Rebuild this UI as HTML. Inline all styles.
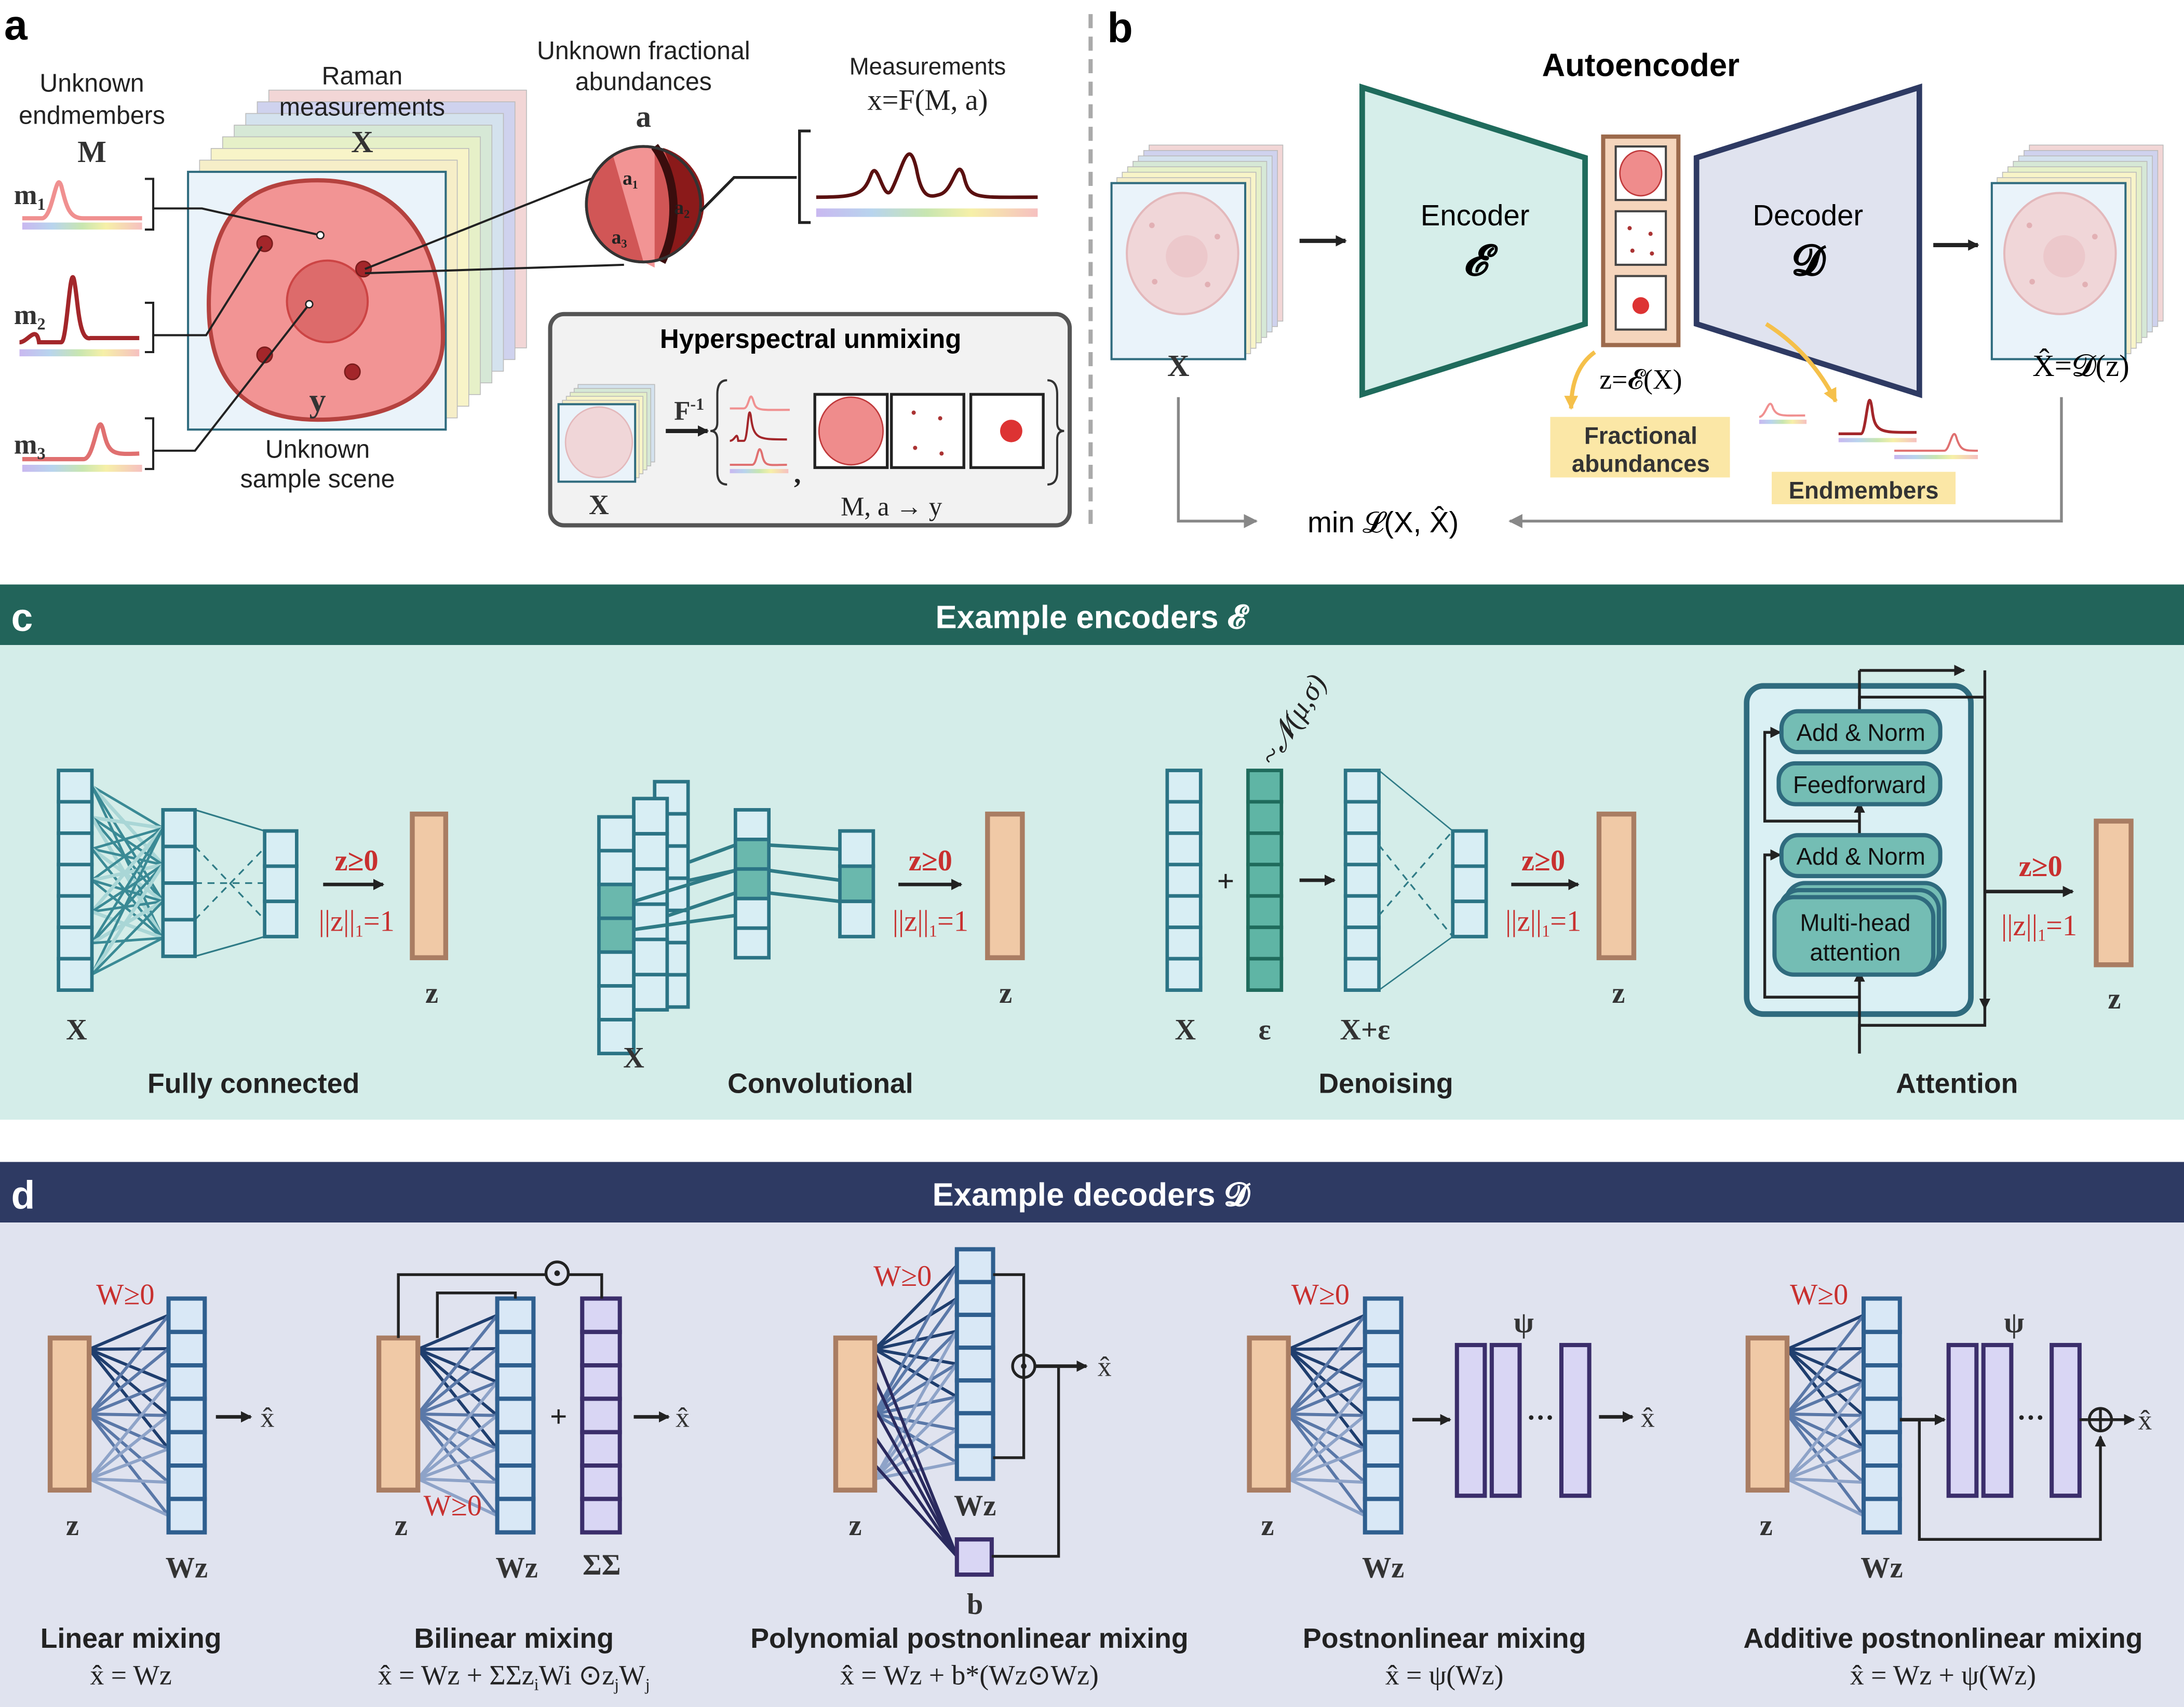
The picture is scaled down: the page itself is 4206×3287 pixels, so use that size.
<!DOCTYPE html>
<html><head><meta charset="utf-8"><style>
html,body{margin:0;padding:0;background:#fff}
svg{display:block}
text{font-family:"Liberation Sans",sans-serif}
.s,.s text,text.s{font-family:"Liberation Serif",serif}
.b,.b text{font-weight:bold}
</style></head><body>
<svg id="m" xmlns="http://www.w3.org/2000/svg" width="4206" height="3287" viewBox="0 0 1568 1212" preserveAspectRatio="none">
<defs>
<marker id="ah" markerWidth="8" markerHeight="8" refX="7" refY="4" orient="auto" markerUnits="userSpaceOnUse"><path d="M0,0L8,4L0,8z" fill="#222"/></marker>
<marker id="ahg" markerWidth="10" markerHeight="10" refX="9" refY="5" orient="auto" markerUnits="userSpaceOnUse"><path d="M0,0L10,5L0,10z" fill="#888"/></marker>
<marker id="ahy" markerWidth="10" markerHeight="10" refX="9" refY="5" orient="auto" markerUnits="userSpaceOnUse"><path d="M0,0L10,5L0,10z" fill="#f5c04a"/></marker>
<linearGradient id="rb" x1="0" x2="1"><stop offset="0" stop-color="#c9b8f0"/><stop offset=".25" stop-color="#b8d4ee"/><stop offset=".5" stop-color="#c8e6b0"/><stop offset=".7" stop-color="#f6f0a8"/><stop offset="1" stop-color="#f6c0c0"/></linearGradient>
</defs>
<rect width="1568" height="1212" fill="#fff"/>
<rect x="0" y="415" width="1568" height="43" fill="#22645a"/>
<rect x="0" y="458" width="1568" height="337" fill="#d4ede9"/>
<rect x="0" y="825" width="1568" height="43" fill="#2e3a63"/>
<rect x="0" y="868" width="1568" height="344" fill="#e0e3ef"/>
<text x="8" y="448" font-size="28" class="b" fill="#fff">c</text>
<text x="783" y="446" font-size="23" class="b" fill="#fff" text-anchor="middle">Example encoders 𝓔</text>
<text x="8" y="858" font-size="28" class="b" fill="#fff">d</text>
<text x="783" y="856" font-size="23" class="b" fill="#fff" text-anchor="middle">Example decoders 𝓓</text>
<line x1="783" y1="10" x2="783" y2="375" stroke="#aaa" stroke-width="3" stroke-dasharray="10 6"/>
<rect x="395" y="223" width="373" height="150" rx="10" fill="#f2f2f2" stroke="#555" stroke-width="3"/>
<g id="dyn"></g>
<text x="3" y="28" font-size="30" class="b">a</text>
<text x="66" y="65" font-size="18" text-anchor="middle" fill="#222">Unknown</text>
<text x="66" y="88" font-size="18" text-anchor="middle" fill="#222">endmembers</text>
<text x="66" y="115" font-size="22" class="s b" text-anchor="middle" fill="#333">M</text>
<text x="260" y="60" font-size="18" text-anchor="middle" fill="#222">Raman</text>
<text x="260" y="82" font-size="18" text-anchor="middle" fill="#222">measurements</text>
<text x="260" y="108" font-size="22" class="s b" text-anchor="middle" fill="#333">X</text>
<text x="462" y="42" font-size="18" text-anchor="middle" fill="#222">Unknown fractional</text>
<text x="462" y="64" font-size="18" text-anchor="middle" fill="#222">abundances</text>
<text x="462" y="90" font-size="22" class="s b" text-anchor="middle" fill="#333">a</text>
<text x="666" y="53" font-size="17" text-anchor="middle" fill="#222">Measurements</text>
<text x="666" y="78" font-size="21" class="s" text-anchor="middle" fill="#222">x=F(M, a)</text>
<text x="228" y="325" font-size="18" text-anchor="middle" fill="#222">Unknown</text>
<text x="228" y="346" font-size="18" text-anchor="middle" fill="#222">sample scene</text>
<text x="228" y="292" font-size="24" class="s b" text-anchor="middle" fill="#333">y</text>
<text x="10" y="145" font-size="20" class="s b" fill="#333">m<tspan font-size="12" dy="4">1</tspan></text>
<text x="10" y="230" font-size="20" class="s b" fill="#333">m<tspan font-size="12" dy="4">2</tspan></text>
<text x="10" y="322" font-size="20" class="s b" fill="#333">m<tspan font-size="12" dy="4">3</tspan></text>
<text x="582" y="247" font-size="19" class="b" text-anchor="middle">Hyperspectral unmixing</text>
<text x="430" y="365" font-size="20" class="s b" text-anchor="middle" fill="#333">X</text>
<text x="484" y="298" font-size="19" class="s b" fill="#333">F<tspan font-size="12" dy="-7">-1</tspan></text>
<line x1="478" y1="306" x2="508" y2="306" stroke="#222" stroke-width="3" marker-end="url(#ah)"/>
<text x="640" y="366" font-size="19" class="s" text-anchor="middle" fill="#222">M, a → y</text>
<text x="795" y="30" font-size="30" class="b">b</text>
<text x="1178" y="54" font-size="23" class="b" text-anchor="middle">Autoencoder</text>
<polygon points="978,62 1138,112 1138,230 978,280" fill="#d6eeea" stroke="#1f6b5c" stroke-width="4"/>
<polygon points="1218,112 1378,62 1378,280 1218,230" fill="#e0e3ef" stroke="#2e3a63" stroke-width="4"/>
<text x="1059" y="160" font-size="21" text-anchor="middle">Encoder</text>
<text x="1059" y="195" font-size="30" text-anchor="middle" font-style="italic" class="b">𝓔</text>
<text x="1298" y="160" font-size="21" text-anchor="middle">Decoder</text>
<text x="1298" y="195" font-size="30" text-anchor="middle" class="b">𝓓</text>
<rect x="1151" y="97" width="54" height="148" fill="#f5d5bc" stroke="#9c6a4c" stroke-width="3"/>
<rect x="1160" y="104" width="36" height="38" fill="#fff" stroke="#444" stroke-width="1.5"/>
<rect x="1160" y="150" width="36" height="38" fill="#fff" stroke="#444" stroke-width="1.5"/>
<rect x="1160" y="196" width="36" height="38" fill="#fff" stroke="#444" stroke-width="1.5"/>
<ellipse cx="1178" cy="123" rx="15" ry="16" fill="#ef8c8c" stroke="#c0393b"/>
<circle cx="1170" cy="162" r="1.5" fill="#a33"/><circle cx="1185" cy="166" r="1.5" fill="#a33"/><circle cx="1172" cy="178" r="1.5" fill="#a33"/><circle cx="1186" cy="180" r="1.5" fill="#a33"/>
<circle cx="1178" cy="217" r="6" fill="#d33"/>
<line x1="933" y1="171" x2="966" y2="171" stroke="#222" stroke-width="3" marker-end="url(#ah)"/>
<line x1="1388" y1="174" x2="1420" y2="174" stroke="#222" stroke-width="3" marker-end="url(#ah)"/>
<text x="846" y="267" font-size="22" class="s b" text-anchor="middle" fill="#333">X</text>
<text x="1178" y="276" font-size="20" class="s" text-anchor="middle">z=𝓔(X)</text>
<text x="1494" y="267" font-size="22" class="s" text-anchor="middle">X̂=𝓓(z)</text>
<path d="M1145,250 Q1128,262 1128,290" fill="none" stroke="#f5c04a" stroke-width="3" marker-end="url(#ahy)"/>
<path d="M1268,230 Q1300,250 1318,285" fill="none" stroke="#f5c04a" stroke-width="3" marker-end="url(#ahy)"/>
<rect x="1113" y="296" width="129" height="43" fill="#fbe7a6"/>
<text x="1178" y="315" font-size="17" class="b" text-anchor="middle" fill="#333">Fractional</text>
<text x="1178" y="335" font-size="17" class="b" text-anchor="middle" fill="#333">abundances</text>
<rect x="1272" y="335" width="132" height="23" fill="#fbe7a6"/>
<text x="1338" y="354" font-size="17" class="b" text-anchor="middle" fill="#333">Endmembers</text>
<path d="M846,282 V370 H902" fill="none" stroke="#888" stroke-width="2" marker-end="url(#ahg)"/>
<path d="M1480,282 V370 H1084" fill="none" stroke="#888" stroke-width="2" marker-end="url(#ahg)"/>
<text x="993" y="378" font-size="21" text-anchor="middle">min 𝓛(X, X̂)</text>
<g font-size="21" fill="#333" class="s b" text-anchor="middle">
<text x="55" y="738">X</text><text x="310" y="712">z</text>
<text x="455" y="758">X</text><text x="722" y="712">z</text>
<text x="851" y="738">X</text><text x="908" y="738">ε</text><text x="980" y="738">X+ε</text><text x="1162" y="712">z</text>
<text x="1518" y="716">z</text>
</g>
<g font-size="20" class="b" text-anchor="middle" fill="#222">
<text x="182" y="776">Fully connected</text><text x="589" y="776">Convolutional</text><text x="995" y="776">Denoising</text><text x="1405" y="776">Attention</text>
</g>
<text x="915" y="545" font-size="21" class="s" font-style="italic" transform="rotate(-58 915 545)" fill="#222">~𝓝(μ,σ)</text>
<rect x="1254" y="487" width="161" height="233" rx="12" fill="#daf0f4" stroke="#2f6b7e" stroke-width="4"/>
<path d="M1335,748 V728 H1425 V495 H1335 V508" fill="none" stroke="#222" stroke-width="2"/>
<line x1="1335" y1="476" x2="1410" y2="476" stroke="#222" stroke-width="2" marker-end="url(#ah)"/>
<path d="M1335,476 V505" stroke="#222" stroke-width="2" fill="none"/>
<line x1="1425" y1="476" x2="1425" y2="716" stroke="#222" stroke-width="2" marker-end="url(#ah)"/>
<path d="M1335,748 V690" stroke="#222" stroke-width="2" marker-end="url(#ah)" fill="none"/>
<path d="M1335,708 H1267 V607 H1278" stroke="#222" stroke-width="2" marker-end="url(#ah)" fill="none"/>
<path d="M1335,621 V570" stroke="#222" stroke-width="2" marker-end="url(#ah)" fill="none"/>
<path d="M1335,583 H1267 V520 H1278" stroke="#222" stroke-width="2" marker-end="url(#ah)" fill="none"/>
<line x1="1425" y1="633" x2="1488" y2="633" stroke="#222" stroke-width="2.5" marker-end="url(#ah)"/>
<rect x="1282" y="627" width="114" height="58" rx="14" fill="#74bdb4" stroke="#2f6b7e" stroke-width="3"/>
<rect x="1278" y="632" width="114" height="58" rx="14" fill="#74bdb4" stroke="#2f6b7e" stroke-width="3"/>
<rect x="1274" y="637" width="114" height="55" rx="14" fill="#74bdb4" stroke="#2f6b7e" stroke-width="3"/>
<rect x="1279" y="505" width="114" height="29" rx="12" fill="#74bdb4" stroke="#2f6b7e" stroke-width="3"/>
<rect x="1277" y="542" width="116" height="29" rx="12" fill="#74bdb4" stroke="#2f6b7e" stroke-width="3"/>
<rect x="1279" y="593" width="114" height="29" rx="12" fill="#74bdb4" stroke="#2f6b7e" stroke-width="3"/>
<g font-size="17" text-anchor="middle" fill="#111">
<text x="1336" y="526">Add &amp; Norm</text><text x="1335" y="563">Feedforward</text><text x="1336" y="614">Add &amp; Norm</text>
<text x="1332" y="661">Multi-head</text><text x="1332" y="682">attention</text>
</g>
<g font-size="20" class="b" text-anchor="middle" fill="#222">
<text x="94" y="1170">Linear mixing</text><text x="369" y="1170">Bilinear mixing</text><text x="696" y="1170">Polynomial postnonlinear mixing</text><text x="1037" y="1170">Postnonlinear mixing</text><text x="1395" y="1170">Additive postnonlinear mixing</text>
</g>
<g font-size="20" class="s" text-anchor="middle" fill="#222">
<text x="94" y="1196">x̂ = Wz</text><text x="369" y="1196">x̂ = Wz + ΣΣz<tspan font-size="12" dy="4">i</tspan><tspan dy="-4">Wi ⊙z</tspan><tspan font-size="12" dy="4">j</tspan><tspan dy="-4">W</tspan><tspan font-size="12" dy="4">j</tspan></text><text x="696" y="1196">x̂ = Wz + b*(Wz⊙Wz)</text><text x="1037" y="1196">x̂ = ψ(Wz)</text><text x="1395" y="1196">x̂ = Wz + ψ(Wz)</text>
</g>
<g font-size="21" class="s b" text-anchor="middle" fill="#333">
<text x="52" y="1090">z</text><text x="134" y="1120">Wz</text>
<text x="288" y="1090">z</text><text x="371" y="1120">Wz</text><text x="432" y="1118">ΣΣ</text>
<text x="614" y="1090">z</text><text x="700" y="1076">Wz</text><text x="700" y="1146">b</text>
<text x="910" y="1090">z</text><text x="993" y="1120">Wz</text>
<text x="1268" y="1090">z</text><text x="1351" y="1120">Wz</text>
<text x="1094" y="946">ψ</text><text x="1446" y="946">ψ</text>
</g>
<g font-size="20" class="s" text-anchor="middle" fill="#333">
<text x="192" y="1013">x̂</text><text x="490" y="1013">x̂</text><text x="793" y="977">x̂</text><text x="1183" y="1013">x̂</text><text x="1540" y="1015">x̂</text>
</g>
<g font-size="21" class="s" text-anchor="middle" fill="#c8302f">
<text x="90" y="926">W≥0</text><text x="325" y="1076">W≥0</text><text x="648" y="913">W≥0</text><text x="948" y="926">W≥0</text><text x="1306" y="926">W≥0</text>
</g>
</svg>
<script>
const NS="http://www.w3.org/2000/svg",G=document.getElementById('dyn');
function el(t,a){const e=document.createElementNS(NS,t);for(const k in a)e.setAttribute(k,a[k]);G.appendChild(e);return e;}
function col(x,y,w,h,n,f,s,sw,fills){for(let i=0;i<n;i++){el('rect',{x:x,y:y+i*h/n,width:w,height:h/n,fill:fills&&fills[i]?fills[i]:f,stroke:s,'stroke-width':sw||2.5});}}
function ln(x1,y1,x2,y2,c,w,extra){const a={x1,y1,x2,y2,stroke:c||'#222','stroke-width':w||2};if(extra)Object.assign(a,extra);return el('line',a);}
function arr(x1,y,x2,w){ln(x1,y,x2,y,'#222',w||2.5,{'marker-end':'url(#ah)'});}
function zbar(x,y,w,h){el('rect',{x,y,width:w,height:h,fill:'#f0c9a6',stroke:'#a97d63','stroke-width':3.5});}
function cube(x,y,w,h,d,n){const cs=['#f2d6d6','#f6eec8','#f8f4c8','#e6f0c8','#d6e8d6','#d4e2ee','#cfd2ee'];for(let i=n-1;i>=0;i--){const o=d*i/(n-1);el('rect',{x:x+o,y:y-o,width:w,height:h,fill:cs[i%cs.length],stroke:'#bbb','stroke-width':.6});}el('rect',{x,y,width:w,height:h,fill:'#eaf3fa',stroke:'#2f6b7e','stroke-width':1.5});}
cube(135,122,185,183,58,8);
el('path',{d:'M228,128 C300,128 318,190 318,240 C318,285 270,298 228,298 C175,298 148,270 150,210 C152,150 180,128 228,128Z',fill:'#f29494',stroke:'#b5423f','stroke-width':3});
el('circle',{cx:235,cy:214,r:29,fill:'#dd6b6b',stroke:'#c44','stroke-width':1.5});
[[190,173],[261,191],[190,252],[253,264]].forEach(p=>el('circle',{cx:p[0],cy:p[1],r:5.5,fill:'#a3262a',stroke:'#7a1c1c'}));
el('path',{d:'M110,148 H145 L230,167',fill:'none',stroke:'#222','stroke-width':1.5});
el('path',{d:'M110,238 H148 L188,175',fill:'none',stroke:'#222','stroke-width':1.5});
el('path',{d:'M110,320 H140 L222,216',fill:'none',stroke:'#222','stroke-width':1.5});
[[230,167],[222,216]].forEach(p=>el('circle',{cx:p[0],cy:p[1],r:2.5,fill:'#fff',stroke:'#222'}));
[[127,163],[215,250],[297,333]].forEach(b=>el('path',{d:`M104,${b[0]} H110 V${b[1]} H104`,fill:'none',stroke:'#222','stroke-width':1.5}));
el('path',{d:'M16,155 H30 C38,155 40,120 44,132 C48,148 50,155 60,155 H102',fill:'none',stroke:'#f09090','stroke-width':3});
el('path',{d:'M14,243 C20,243 26,230 28,243 H44 C48,243 50,188 53,198 C56,210 56,243 65,240 H100',fill:'none',stroke:'#a3262a','stroke-width':3});
el('path',{d:'M16,326 H60 C68,326 70,290 74,305 C78,322 80,323 100,322',fill:'none',stroke:'#e07070','stroke-width':3});
[[16,158],[14,248],[16,330]].forEach(p=>el('rect',{x:p[0],y:p[1],width:86,height:5,fill:'url(#rb)'}));
ln(262,191,437,122,'#222',1.5);ln(262,194,448,188,'#222',1.5);
el('circle',{cx:462,cy:145,r:41,fill:'#d15656',stroke:'#333','stroke-width':2});
el('path',{d:'M440,110 A41,41 0 0 1 470,104 L470,190 L462,186 Z',fill:'#f29494'});
el('path',{d:'M476,105 A41,41 0 0 1 475,184 C488,160 488,130 476,105Z',fill:'#8b1a1a'});
el('path',{d:'M470,104 C486,125 488,160 475,186',fill:'none',stroke:'#3a0d0d','stroke-width':6});
el('circle',{cx:462,cy:145,r:41,fill:'none',stroke:'#333','stroke-width':2});
const t=(x,y,s,f,c)=>{const e=el('text',{x,y,'font-size':f||14,fill:c||'#222','class':'s b'});e.textContent=s;return e;};
t(447,131,'a₁');t(484,152,'a₂');t(439,173,'a₃');
el('path',{d:'M503,150 L527,126 H572',fill:'none',stroke:'#222','stroke-width':2});
el('path',{d:'M582,93 H574 V158 H582',fill:'none',stroke:'#222','stroke-width':2});
el('path',{d:'M586,140 C615,140 620,138 625,125 C630,110 634,145 640,135 C648,120 652,95 658,120 C662,142 668,140 675,138 C685,135 687,110 692,125 C696,142 700,140 745,140',fill:'none',stroke:'#5a1010','stroke-width':2.5});
el('rect',{x:586,y:148,width:159,height:6,fill:'url(#rb)'});
cube(401,287,55,55,14,6);
el('ellipse',{cx:430,cy:314,rx:24,ry:25,fill:'#f0d6d8',stroke:'#e3b8bb'});
el('path',{d:'M522,270 Q515,270 515,280 V300 Q515,306 510,306 Q515,306 515,312 V335 Q515,344 522,344',fill:'none',stroke:'#333','stroke-width':1.5});
el('path',{d:'M752,270 Q759,270 759,280 V300 Q759,306 764,306 Q759,306 759,312 V335 Q759,344 752,344',fill:'none',stroke:'#333','stroke-width':1.5});
el('path',{d:'M524,290 H534 C538,290 538,275 541,285 C543,292 545,291 567,291',fill:'none',stroke:'#f09090','stroke-width':1.5});
el('path',{d:'M524,313 C528,313 529,305 530,313 H534 C537,313 537,285 539,295 C541,312 544,312 565,312',fill:'none',stroke:'#a3262a','stroke-width':1.5});
el('path',{d:'M524,330 H540 C544,330 544,312 547,322 C549,332 551,330 565,330',fill:'none',stroke:'#e07070','stroke-width':1.5});
el('rect',{x:524,y:333,width:42,height:3,fill:'url(#rb)'});
t(570,343,',',20,'#222');
[[585,280],[640,280],[697,280]].forEach(p=>el('rect',{x:p[0],y:p[1],width:52,height:52,fill:'#fff',stroke:'#222','stroke-width':2}));
el('ellipse',{cx:611,cy:306,rx:23,ry:24,fill:'#ef8c8c',stroke:'#c0393b'});
[[656,293],[675,297],[657,318],[676,322]].forEach(p=>el('circle',{cx:p[0],cy:p[1],r:1.5,fill:'#a33'}));
el('circle',{cx:726,cy:306,r:8,fill:'#d33'});
function cell(x,y){el('ellipse',{cx:x,cy:y,rx:40,ry:43,fill:'#f0d6d8',stroke:'#e3b8bb','stroke-width':1.5});el('circle',{cx:x+3,cy:y+2,r:15,fill:'#ecc8cb'});[[-22,-20],[25,-12],[-20,20],[18,22]].forEach(o=>el('circle',{cx:x+o[0],cy:y+o[1],r:2,fill:'#e2b0b4'}));}
cube(798,130,96,125,27,8);cell(849,180);
cube(1430,130,96,125,27,8);cell(1479,180);
el('path',{d:'M1263,296 C1268,296 1270,280 1273,290 C1276,296 1280,295 1296,295',fill:'none',stroke:'#f09090','stroke-width':1.5});
el('rect',{x:1263,y:298,width:34,height:3,fill:'url(#rb)'});
el('path',{d:'M1320,308 H1336 C1340,308 1341,270 1344,290 C1346,308 1350,307 1376,307',fill:'none',stroke:'#a3262a','stroke-width':2});
el('rect',{x:1320,y:311,width:56,height:3,fill:'url(#rb)'});
el('path',{d:'M1360,320 H1396 C1400,320 1402,300 1405,312 C1408,320 1410,320 1420,320',fill:'none',stroke:'#e07070','stroke-width':1.5});
el('rect',{x:1360,y:323,width:60,height:3,fill:'url(#rb)'});
const CS='#2b7485',CF='#d8eef4',CD='#6ab8ad';
const cy=(y,h,n)=>Array.from({length:n},(_,i)=>y+h*(i+.5)/n);
// FC
const l1=cy(547,156,7),l2=cy(575,104,4);
l1.forEach((a,i)=>l2.forEach((b,j)=>{const light=(i+j)%3==1;ln(66,a,117,b,light?'#a9d6d6':'#3a8a95',light?2.5:1.8);}));
ln(140,575,190,590,'#2f7b86',1.2);ln(140,679,190,665,'#2f7b86',1.2);
ln(140,601,190,653,'#2f7b86',1.2,{'stroke-dasharray':'5 4'});ln(140,653,190,602,'#2f7b86',1.2,{'stroke-dasharray':'5 4'});
ln(140,627,190,627,'#2f7b86',1.2,{'stroke-dasharray':'5 4'});
col(42,547,24,156,7,CF,CS);col(117,575,23,104,4,CF,CS);col(190,590,23,75,3,CF,CS);
arr(232,628,275);
t(256,618,'z≥0',21,'#c8302f').setAttribute('text-anchor','middle');
const nm=(x,y)=>{const e=el('text',{x,y,'font-size':21,fill:'#c8302f','class':'s','text-anchor':'middle'});e.innerHTML='||z||<tspan font-size="12" dy="4">1</tspan><tspan dy="-4">=1</tspan>';};
nm(256,661);zbar(296,578,24,102);
// conv
col(470,555,24,160,7,CF,CS);col(455,567,24,150,6,CF,CS);
col(430,580,25,168,7,CF,CS,2.5,[0,0,CD,CD,0,0,0]);
[[495,612,528,600],[495,625,528,618],[480,650,528,634],[455,640,528,618],[455,660,528,650]].forEach(l=>ln(l[0],l[1],l[2],l[3],'#2f7b86',2.5));
ln(552,600,603,603,'#2f7b86',2.5);ln(552,634,603,640,'#2f7b86',2.5);ln(552,618,603,625,'#2f7b86',2.5);
col(528,575,24,105,5,CF,CS,2.5,[0,CD,CD,0,0]);col(603,590,24,75,3,CF,CS,2.5,[0,CD,0]);
arr(645,628,690);t(668,618,'z≥0',21,'#c8302f').setAttribute('text-anchor','middle');nm(668,661);zbar(709,578,25,102);
// denoising
col(838,547,24,156,7,CF,CS);
t(880,633,'+',22,'#222').setAttribute('text-anchor','middle');
col(896,547,24,156,7,'#5fb5a5','#1f6b5c');
arr(933,625,958);
col(966,547,24,156,7,CF,CS);
ln(990,547,1043,590,'#2f7b86',1);ln(990,703,1043,665,'#2f7b86',1);
ln(990,600,1043,665,'#2f7b86',1.2,{'stroke-dasharray':'5 4'});ln(990,650,1043,590,'#2f7b86',1.2,{'stroke-dasharray':'5 4'});
col(1043,590,24,75,3,CF,CS);
arr(1085,628,1133);t(1108,618,'z≥0',21,'#c8302f').setAttribute('text-anchor','middle');nm(1108,661);zbar(1148,578,25,102);
t(1465,622,'z≥0',21,'#c8302f').setAttribute('text-anchor','middle');nm(1464,664);zbar(1505,583,25,102);
// ---- section d
const DS='#2f5f8f',DF='#d9e8f6',PS='#3b2e6b',PF='#d9d6f4';
function wlinks(bx,by,bh,cx,cys){const ys=[by+8,by+bh/2,by+bh-8];const cols=['#1f3e6e','#5a78a8','#8ea3c8'];ys.forEach((a,j)=>cys.forEach((c,i)=>{if((j==0&&i>4)||(j==2&&i<2))return;ln(bx,a,cx,c,cols[j],2.2);}));}
wlinks(64,950,108,121,cy(922,166,7));
zbar(36,950,28,108);col(121,922,26,166,7,DF,DS,3);arr(155,1006,180);
wlinks(300,950,108,357,cy(922,166,7));
zbar(272,950,28,108);col(357,922,26,166,7,DF,DS,3);col(418,922,27,166,7,PF,PS,3);
t(401,1013,'+',22,'#222').setAttribute('text-anchor','middle');arr(455,1006,480);
el('path',{d:'M286,950 V905 H392 M408,905 H432 V922',fill:'none',stroke:'#222','stroke-width':2});
el('path',{d:'M314,950 V918 H370 V922',fill:'none',stroke:'#222','stroke-width':2});
el('circle',{cx:400,cy:904,r:8,fill:'none',stroke:'#222','stroke-width':2});el('circle',{cx:400,cy:904,r:2,fill:'#222'});
wlinks(628,950,108,687,cy(887,163,7));
[960,980,1000,1020,1040].forEach(y=>ln(628,y,687,1105,'#2a2a5e',2.2));
zbar(600,950,28,108);col(687,887,26,163,7,DF,DS,3);
el('rect',{x:687,y:1093,width:25,height:25,fill:PF,stroke:PS,'stroke-width':3});
el('path',{d:'M713,905 H735 V1035 H713 M735,905 V960',fill:'none',stroke:'#222','stroke-width':2});
el('path',{d:'M712,1105 H760 V970',fill:'none',stroke:'#222','stroke-width':2});
el('circle',{cx:735,cy:970,r:8,fill:'none',stroke:'#222','stroke-width':2});el('circle',{cx:735,cy:970,r:2,fill:'#222'});
arr(743,970,780);
wlinks(925,950,108,980,cy(922,166,7));
zbar(897,950,28,108);col(980,922,26,166,7,DF,DS,3);arr(1014,1008,1041);
[1046,1071,1121].forEach(x=>el('rect',{x,y:955,width:20,height:107,fill:PF,stroke:PS,'stroke-width':3}));
t(1106,1013,'···',20,'#222').setAttribute('text-anchor','middle');arr(1148,1006,1172);
wlinks(1283,950,108,1338,cy(922,166,7));
zbar(1255,950,28,108);col(1338,922,26,166,7,DF,DS,3);arr(1364,1008,1396);
[1399,1424,1473].forEach(x=>el('rect',{x,y:955,width:20,height:107,fill:PF,stroke:PS,'stroke-width':3}));
t(1458,1013,'···',20,'#222').setAttribute('text-anchor','middle');
ln(1493,1008,1499,1008,'#222',2);
el('path',{d:'M1378,1008 V1093 H1508 V1020',fill:'none',stroke:'#222','stroke-width':2,'marker-end':'url(#ah)'});
el('circle',{cx:1508,cy:1008,r:8,fill:'none',stroke:'#222','stroke-width':2});
ln(1500,1008,1516,1008,'#222',2);ln(1508,1000,1508,1016,'#222',2);arr(1516,1008,1532,2);
</script>
</body></html>
